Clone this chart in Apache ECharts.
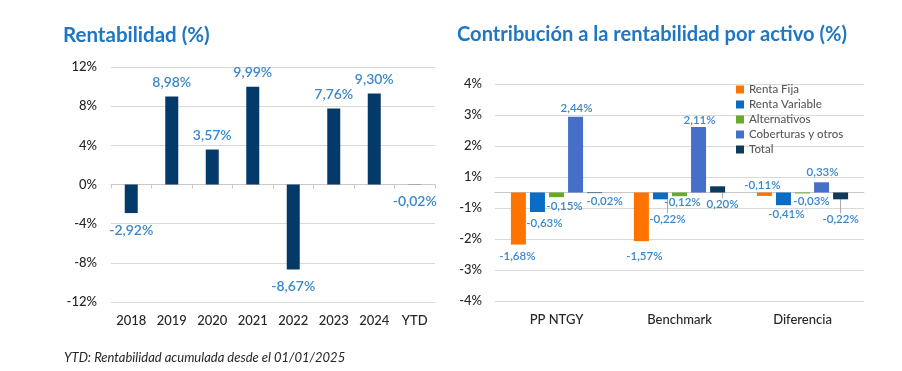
<!DOCTYPE html>
<html><head><meta charset="utf-8">
<script src="https://cdn.jsdelivr.net/npm/echarts@6/dist/echarts.min.js"></script>
<style>html,body{margin:0;padding:0;background:#fff}#c{width:902px;height:371px}</style>
</head><body><div id="c"></div>
<script>
// ---- data ----
const years = ['2018','2019','2020','2021','2022','2023','2024','YTD'];
const rentabilidad = [-2.92, 8.98, 3.57, 9.99, -8.67, 7.76, 9.30, -0.02];
const groups = ['PP NTGY','Benchmark','Diferencia'];
const assetNames = ['Renta Fija','Renta Variable','Alternativos','Coberturas y otros','Total'];
const rentaFija = [-1.68, -1.57, -0.11];
const rentaVariable = [-0.63, -0.22, -0.41];
const alternativos = [-0.15, -0.12, -0.03];
const coberturas = [2.44, 2.11, 0.33];
const total = [-0.02, 0.20, -0.22];
const rightTickLabels = ['-4%','-3%','-2%','-1%','1%','2%','3%','4%'];

// ---- style ----
const assetValues = [rentaFija, rentaVariable, alternativos, coberturas, total];
const assetColors = ['#FF7400','#0A6CC2','#6AAA2A','#4670C8','#0E3A5E'];
const labelBlue = '#3A87CB';
const titleBlue = '#1F77C3';
const axisText = '#262626';
const font = 'Lato';
// label nudges [dx, dy] per series per group (style only)
const labelShift = [
  [[-1,1],[3,4],[-2,-22]],
  [[7,0],[7,9],[3,-2]],
  [[8,-2],[3,-5],[9,-3]],
  [[1,2],[1,4],[1,1]],
  [[10,-3],[5,29],[0,9]]
];
const leader = [
  [false,false,false],
  [false,true,false],
  [false,false,false],
  [false,false,false],
  [false,true,true]
];
const fmt = v => v.toFixed(2).replace('.', ',') + '%';

const chart = echarts.init(document.getElementById('c'), null, {renderer:'canvas'});

const rightSeries = assetNames.map((name, s) => ({
  name, type:'bar', xAxisIndex:2, yAxisIndex:1,
  barWidth:15, barGap:'27%',
  itemStyle:{color:assetColors[s]},
  data: assetValues[s].map((v, i) => ({
    value:v,
    label:{position: v >= 0 ? 'top' : 'bottom'},
    labelLine:{show: leader[s][i], lineStyle:{color:'#A6A6A6', width:1}}
  })),
  label:{show:true, distance:5, color:labelBlue, fontSize:11.5, fontWeight:600, fontFamily:font,
         formatter: p => fmt(p.value)},
  labelLayout: p => ({dx: labelShift[s][p.dataIndex][0], dy: labelShift[s][p.dataIndex][1]}),
  emphasis:{disabled:true}
}));

chart.setOption({
  animation:false,
  textStyle:{fontFamily:font},
  graphic:[
    {type:'text', x:63, y:35, style:{text:'Rentabilidad (%)', font:'bold 20.5px Lato', fill:titleBlue, verticalAlign:'middle', align:'left'}},
    {type:'text', x:457, y:35, style:{text:'Contribución a la rentabilidad por activo (%)', font:'bold 20.1px Lato', fill:titleBlue, verticalAlign:'middle', align:'left'}},
    {type:'text', x:64, y:358, style:{text:'YTD: Rentabilidad acumulada desde el 01/01/2025', font:'italic 13px Lato', fill:'#262626', verticalAlign:'middle', align:'left'}}
  ],
  legend:{
    data:assetNames, orient:'vertical', left:736, top:83, padding:0,
    itemWidth:8, itemHeight:8, itemGap:2, icon:'rect',
    textStyle:{fontSize:11.5, color:'#595959', lineHeight:13, fontFamily:font, fontWeight:500},
    selectedMode:false
  },
  grid:[
    {left:111, top:67, width:324, height:235},
    {left:495, top:84, width:369, height:217}
  ],
  xAxis:[
    {type:'category', gridIndex:0, data:years, position:'bottom',
     axisLine:{show:false, onZero:false}, axisTick:{show:false},
     axisLabel:{fontSize:13, color:axisText, margin:12, fontFamily:font, fontWeight:500}},
    {type:'category', gridIndex:0, data:years, position:'top',
     axisLine:{show:true, onZero:true, lineStyle:{color:'#C8C8C8'}},
     axisTick:{show:true, inside:true, length:4, lineStyle:{color:'#C8C8C8'}},
     axisLabel:{show:false}},
    {type:'category', gridIndex:1, data:groups, position:'bottom',
     axisLine:{show:false, onZero:false}, axisTick:{show:false},
     axisLabel:{fontSize:13, color:axisText, margin:12, fontFamily:font, fontWeight:500}},
    {type:'category', gridIndex:1, data:groups, position:'top',
     axisLine:{show:true, onZero:true, lineStyle:{color:'#C8C8C8'}},
     axisTick:{show:false}, axisLabel:{show:false}}
  ],
  yAxis:[
    {type:'value', gridIndex:0, min:-12, max:12, interval:4,
     axisLine:{show:false}, axisTick:{show:false},
     splitLine:{lineStyle:{color:'#D9D9D9'}},
     axisLabel:{fontSize:13, color:axisText, margin:14, formatter:v => v + '%', fontFamily:font, fontWeight:500}},
    {type:'value', gridIndex:1, min:-3.5, max:3.5, interval:1,
     axisLine:{show:false}, axisTick:{show:false},
     splitLine:{lineStyle:{color:'#D9D9D9'}},
     axisLabel:{fontSize:13, color:axisText, margin:13, fontFamily:font, fontWeight:500,
       formatter:v => rightTickLabels[Math.round(v + 3.5)]}}
  ],
  series:[
    {name:'Rentabilidad', type:'bar', xAxisIndex:0, yAxisIndex:0, barWidth:13,
     itemStyle:{color:'#043A69'},
     data: rentabilidad.map(v => ({value:v, label:{position: v >= 0 ? 'top' : 'bottom', distance: v >= 0 ? 7 : 10}})),
     label:{show:true, color:labelBlue, fontSize:14, fontWeight:600, fontFamily:font, formatter:p => fmt(p.value)},
     emphasis:{disabled:true}},
    ...rightSeries
  ]
});
</script>
</body></html>
